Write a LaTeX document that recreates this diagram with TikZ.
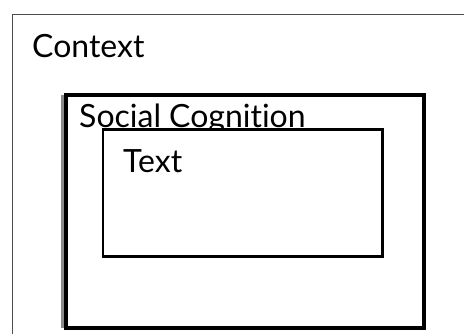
\documentclass[tikz,border=0pt]{standalone}
\usepackage{fontspec}
\setmainfont{Lato}[Ligatures=NoCommon]
\begin{document}
\begin{tikzpicture}[x=1pt,y=-1pt,
  label/.style={anchor=base west,inner sep=0pt,font=\fontsize{32}{38}\selectfont},
  frame/.style={draw,fill=none}]
\useasboundingbox (0,0) rectangle (464,333);
\fill[white] (0,0) rectangle (464,333);
\begin{scope}
\clip (0,0) rectangle (464,333);
% outer context frame, running off the right and bottom edges
\draw[line width=1.5pt,black!70] (12.5,14.5) rectangle (490,360);
\end{scope}
% social cognition frame with a grey strip along its left side
\draw[line width=3pt,black!45] (62.5,95) -- (62.5,328);
\draw[line width=4.5pt,black] (66,95.2) rectangle (424,327.8);
\node[label] (ctx) at (32,57) {Context};
\node[label] (sc) at (79,127) {Social Cognition};
% text frame, laid over the descenders of the label above
\draw[line width=2.5pt,black,fill=white] (103,129.5) rectangle (382.5,256.5);
\node[label] (txt) at (123,172) {Text};
\end{tikzpicture}
\end{document}
